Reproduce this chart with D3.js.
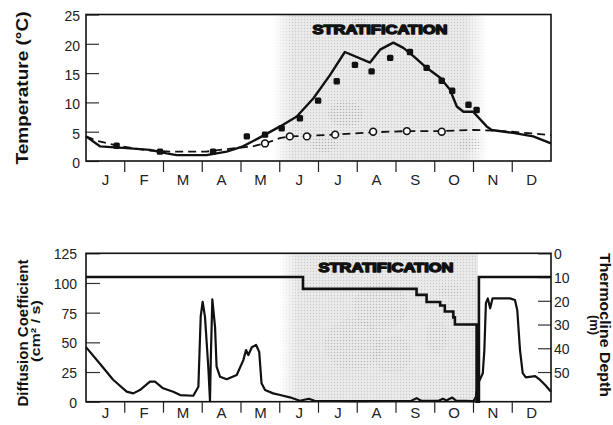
<!DOCTYPE html>
<html>
<head>
<meta charset="utf-8">
<script src="https://cdn.jsdelivr.net/npm/d3@7"></script>
<style>
  html, body { margin: 0; padding: 0; background: #fff; }
  svg { display: block; font-family: "Liberation Sans", Arial, Helvetica, sans-serif; }
</style>
</head>
<body>
<svg id="chart" width="613" height="425"></svg>
<script>
// ---- data -------------------------------------------------------------
// x positions are in months from 1 January (0 = Jan 1, 12 = Dec 31)
const months = ["J", "F", "M", "A", "M", "J", "J", "A", "S", "O", "N", "D"];
const tempTicks = [0, 5, 10, 15, 20, 25];
const diffTicks = [0, 25, 50, 75, 100, 125];
const depthTicks = [0, 10, 20, 30, 40, 50];
const stratPeriod = [5.05, 10.12];

// modelled surface (epilimnion) temperature, °C
const surfaceModel = [
  [0, 4.2], [0.36, 2.5], [1.05, 2.2], [1.65, 1.9], [2.08, 1.3], [2.34, 1.0],
  [3.11, 1.0], [3.63, 1.6], [4.05, 2.5], [4.54, 4.2], [5.01, 5.9], [5.44, 7.6],
  [5.87, 10.7], [6.30, 14.7], [6.68, 18.6], [7.33, 16.8], [7.59, 19.0],
  [7.93, 20.2], [8.19, 19.3], [8.45, 17.9], [8.79, 15.9], [9.14, 14.2],
  [9.39, 12.2], [9.57, 9.3], [9.74, 8.4], [9.99, 8.4], [10.34, 5.9],
  [10.47, 5.3], [11.02, 4.8], [11.54, 4.2], [12, 3.0]
];
// modelled bottom (hypolimnion) temperature, °C
const bottomModel = [
  [0, 4.2], [0.3, 3.4], [0.9, 2.5], [1.6, 1.8], [2.2, 1.6], [3.1, 1.6],
  [3.6, 2.0], [4.0, 2.3], [4.3, 2.5], [4.62, 3.0], [5.0, 3.9], [5.26, 4.2],
  [5.7, 4.3], [6.43, 4.5], [7.41, 4.9], [8.28, 5.1], [9.18, 5.1], [10.0, 5.3],
  [10.5, 5.2], [11.0, 5.0], [11.5, 4.7], [12, 4.4]
];
// observed surface temperature, °C
const surfaceObs = [
  [0.79, 2.6], [1.91, 1.6], [3.28, 1.6], [4.15, 4.2], [4.62, 4.5], [5.05, 5.6],
  [5.52, 7.3], [5.99, 10.3], [6.47, 13.6], [6.94, 16.4], [7.37, 15.3],
  [7.85, 17.6], [8.36, 18.6], [8.79, 15.9], [9.18, 13.7], [9.45, 12.0],
  [9.87, 9.6], [10.08, 8.7]
];
// observed bottom temperature, °C
const bottomObs = [
  [4.62, 3.0], [5.26, 4.2], [5.70, 4.2], [6.43, 4.5], [7.41, 5.0], [8.28, 5.1], [9.18, 5.0]
];
// vertical diffusion coefficient, cm²/s
const diffusion = [
  [0, 46], [0.36, 32], [0.70, 18.5], [1.05, 8.5], [1.22, 7], [1.39, 9.8],
  [1.65, 16.9], [1.78, 16.9], [1.99, 11.3], [2.25, 8.4], [2.43, 5.6], [2.77, 5.0],
  [2.90, 12.6], [2.96, 71.6], [3.01, 84.2], [3.07, 71.6], [3.11, 52], [3.16, 26.7],
  [3.20, 0.5], [3.22, 35], [3.26, 86.3], [3.33, 63], [3.37, 29.5], [3.46, 21],
  [3.63, 18.9], [3.89, 22.5], [4.06, 35], [4.13, 43.5], [4.19, 39.3], [4.28, 45.8],
  [4.39, 47.8], [4.47, 42], [4.53, 15.5], [4.62, 9.8], [4.83, 7], [5.01, 5.6],
  [5.26, 3.7], [5.52, 0.8], [5.75, 2.5], [5.9, 0.8], [7.0, 0.5], [8.4, 0.8],
  [8.53, 3], [8.65, 0.8], [9.1, 0.8], [9.21, 2.5], [9.3, 1], [9.45, 3.5],
  [9.55, 1], [10.0, 0.5], [10.06, 4], [10.12, 15.5], [10.24, 24], [10.28, 43.5],
  [10.32, 83], [10.37, 87], [10.43, 78.7], [10.49, 87], [10.94, 87], [11.07, 85.7],
  [11.13, 77], [11.20, 43.5], [11.27, 24], [11.35, 20.5], [11.59, 21.6],
  [11.72, 18.3], [11.85, 14], [12, 8.4]
];
// thermocline depth, m (held until the next entry)
const thermocline = [
  [0, 10], [5.6, 15], [8.53, 17.5], [8.79, 20.5], [9.14, 22], [9.26, 24.5],
  [9.48, 27], [9.52, 30], [10.08, 62.5], [10.14, 10], [12, 10]
];

// ---- layout ---------------------------------------------------------
const svg = d3.select("#chart");
const left = 86, right = 551;
const topPanel = { y0: 161, y1: 14.5, monthY: 185 };
const botPanel = { y0: 401.7, y1: 253.3, monthY: 418 };

const x = d3.scaleLinear().domain([0, 12]).range([left, right]);
const yT = d3.scaleLinear().domain([0, 25]).range([topPanel.y0, topPanel.y1]);
const yD = d3.scaleLinear().domain([0, 125]).range([botPanel.y0, botPanel.y1]);
const yZ = d3.scaleLinear().domain([0, 62.5]).range([botPanel.y1, botPanel.y0]);

const defs = svg.append("defs");

// halftone-like fill for the stratified period
const pat = defs.append("pattern").attr("id", "stipple")
  .attr("patternUnits", "userSpaceOnUse").attr("width", 3).attr("height", 3);
pat.append("rect").attr("width", 3).attr("height", 3).attr("fill", "#ebebeb");
pat.append("circle").attr("cx", 1.5).attr("cy", 1.5).attr("r", 0.7).attr("fill", "#c9c9c9");

const patDark = defs.append("pattern").attr("id", "stippleDark")
  .attr("patternUnits", "userSpaceOnUse").attr("width", 3).attr("height", 3);
patDark.append("circle").attr("cx", 1.5).attr("cy", 1.5).attr("r", 0.8).attr("fill", "#9a9a9a");

function fadeMask(id, stops) {
  const g = defs.append("linearGradient").attr("id", id + "G")
    .attr("gradientUnits", "userSpaceOnUse")
    .attr("x1", left).attr("x2", right).attr("y1", 0).attr("y2", 0);
  stops.forEach(([px, o]) => g.append("stop")
    .attr("offset", (px - left) / (right - left)).attr("stop-color", "#fff").attr("stop-opacity", o));
  const m = defs.append("mask").attr("id", id).attr("maskUnits", "userSpaceOnUse")
    .attr("x", 0).attr("y", 0).attr("width", 613).attr("height", 425);
  m.append("rect").attr("width", 613).attr("height", 425).attr("fill", "url(#" + id + "G)");
}
const s0 = x(stratPeriod[0]), s1 = x(stratPeriod[1]);
fadeMask("fadeTop", [[s0 - 10, 0], [s0 + 12, 1], [s1 - 12, 1], [s1 + 10, 0]]);
fadeMask("fadeBot", [[s0 - 2, 0], [s0 + 16, 1], [s1, 1], [s1 + 0.1, 0]]);

// shaded stratification bands
svg.append("rect").attr("x", left).attr("y", topPanel.y1)
  .attr("width", right - left).attr("height", topPanel.y0 - topPanel.y1)
  .attr("fill", "url(#stipple)").attr("mask", "url(#fadeTop)");
svg.append("rect").attr("x", left).attr("y", botPanel.y1)
  .attr("width", right - left).attr("height", botPanel.y0 - botPanel.y1)
  .attr("fill", "url(#stipple)").attr("mask", "url(#fadeBot)");

// a few darker halftone patches inside the bands
const patches = [
  [6.7, 8, 0.45, 2.2], [7.05, 23.5, 0.2, 1], [6.15, 2.8, 0.35, 1.3], [9.9, 2.8, 0.3, 1.2]
];
svg.append("g").selectAll("ellipse").data(patches).join("ellipse")
  .attr("cx", d => x(d[0])).attr("cy", d => yT(d[1]))
  .attr("rx", d => x(d[2]) - x(0)).attr("ry", d => yT(0) - yT(d[3]))
  .attr("fill", "url(#stippleDark)").attr("opacity", 0.55);
const patchesBot = [
  [7.6, 80, 0.7, 20], [6.9, 48, 0.75, 22], [7.9, 40, 0.5, 16], [9.05, 55, 0.3, 14], [9.4, 93, 0.3, 6]
];
svg.append("g").selectAll("ellipse").data(patchesBot).join("ellipse")
  .attr("cx", d => x(d[0])).attr("cy", d => yD(d[1]))
  .attr("rx", d => x(d[2]) - x(0)).attr("ry", d => yD(0) - yD(d[3]))
  .attr("fill", "url(#stippleDark)").attr("opacity", 0.35);

// ---- axes -----------------------------------------------------------
function frame(p) {
  svg.append("rect").attr("x", left).attr("y", p.y1)
    .attr("width", right - left).attr("height", p.y0 - p.y1)
    .attr("fill", "none").attr("stroke", "#111").attr("stroke-width", 1.6);
}

function monthAxis(p) {
  const g = svg.append("g");
  g.selectAll("line").data(d3.range(1, 12)).join("line")
    .attr("x1", d => x(d)).attr("x2", d => x(d)).attr("y1", p.y0).attr("y2", p.y0 + 11)
    .attr("stroke", "#222").attr("stroke-width", 1.2);
  g.selectAll("text").data(months).join("text")
    .attr("x", (d, i) => x(i + 0.5)).attr("y", p.monthY)
    .attr("text-anchor", "middle").attr("font-size", 15).attr("fill", "#222")
    .text(d => d);
}

function styleAxis(g, dy) {
  g.select(".domain").remove();
  g.selectAll(".tick line").attr("stroke", "#333").attr("stroke-width", 1.2);
  g.selectAll(".tick text").attr("font-size", 14).attr("fill", "#222")
    .attr("font-family", "Liberation Sans, Arial, sans-serif").attr("dy", dy);
}

// temperature panel axis (ticks point inwards)
const gT = svg.append("g").attr("transform", `translate(${left},0)`)
  .call(d3.axisLeft(yT).tickValues(tempTicks).tickSize(-13).tickPadding(6));
styleAxis(gT, "0.45em");

// diffusion panel left axis
const gD = svg.append("g").attr("transform", `translate(${left},0)`)
  .call(d3.axisLeft(yD).tickValues(diffTicks).tickSize(-14).tickPadding(9));
styleAxis(gD, "0.4em");

// thermocline depth right axis
const gZ = svg.append("g").attr("transform", `translate(${right},0)`)
  .call(d3.axisRight(yZ).tickValues(depthTicks).tickSize(-13).tickPadding(3));
styleAxis(gZ, "0.38em");

// ---- temperature series ---------------------------------------------
const lineT = d3.line().x(d => x(d[0])).y(d => yT(d[1]));
svg.append("path").datum(bottomModel).attr("d", lineT)
  .attr("fill", "none").attr("stroke", "#111").attr("stroke-width", 1.8)
  .attr("stroke-dasharray", "8,5");
svg.append("path").datum(surfaceModel).attr("d", lineT)
  .attr("fill", "none").attr("stroke", "#111").attr("stroke-width", 2.4)
  .attr("stroke-linejoin", "round");
svg.append("g").selectAll("circle").data(bottomObs).join("circle")
  .attr("cx", d => x(d[0])).attr("cy", d => yT(d[1])).attr("r", 3.4)
  .attr("fill", "#fff").attr("stroke", "#111").attr("stroke-width", 1.6);
svg.append("g").selectAll("rect").data(surfaceObs).join("rect")
  .attr("x", d => x(d[0]) - 3.2).attr("y", d => yT(d[1]) - 3.2)
  .attr("width", 6.4).attr("height", 6.4).attr("rx", 1.5)
  .attr("fill", "#111");

// ---- diffusion & thermocline series ----------------------------------
svg.append("path").datum(diffusion)
  .attr("d", d3.line().x(d => x(d[0])).y(d => yD(d[1])))
  .attr("fill", "none").attr("stroke", "#111").attr("stroke-width", 2.2)
  .attr("stroke-linejoin", "round");
svg.append("path").datum(thermocline)
  .attr("d", d3.line().curve(d3.curveStepAfter).x(d => x(d[0])).y(d => yZ(d[1])))
  .attr("fill", "none").attr("stroke", "#111").attr("stroke-width", 2.6);

frame(topPanel);
frame(botPanel);
monthAxis(topPanel);
monthAxis(botPanel);

// ---- labels ---------------------------------------------------------
function stratLabel(cx, yBase) {
  svg.append("text").attr("x", cx).attr("y", yBase)
    .attr("text-anchor", "middle").attr("font-size", 13).attr("font-weight", "bold")
    .attr("fill", "#111").attr("stroke", "#111").attr("stroke-width", 1.4)
    .attr("stroke-linejoin", "round")
    .attr("textLength", 135).attr("lengthAdjust", "spacingAndGlyphs")
    .text("STRATIFICATION");
}
stratLabel(380, 34);
stratLabel(386, 272);

function vTitle(tx, ty, rot, text, size, len) {
  svg.append("text").attr("transform", `translate(${tx},${ty}) rotate(${rot})`)
    .attr("text-anchor", "middle").attr("font-size", size).attr("font-weight", "bold")
    .attr("fill", "#111").attr("textLength", len).attr("lengthAdjust", "spacingAndGlyphs")
    .text(text);
}
vTitle(28, 88, -90, "Temperature (°C)", 17, 153);
vTitle(28, 333, -90, "Diffusion Coefficient", 14.5, 147);
vTitle(39.5, 331, -90, "(cm² / s)", 12, 62);
vTitle(599.5, 325, 90, "Thermocline Depth", 14, 144);
vTitle(589.5, 325, 90, "(m)", 12, 20);
</script>
</body>
</html>
